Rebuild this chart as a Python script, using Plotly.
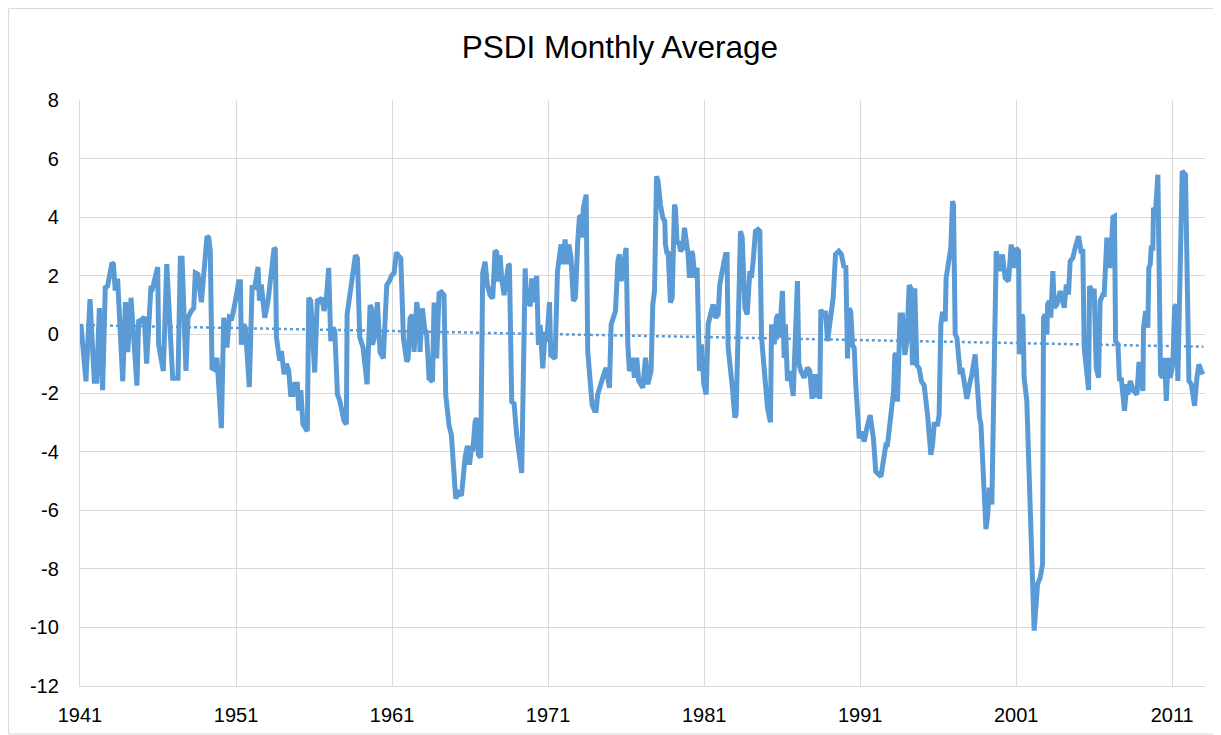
import plotly.graph_objects as go

# Decimal years and PSDI values
years = [
    1941.06, 1941.17, 1941.38, 1941.64, 1941.92, 1942.07, 1942.24, 1942.45, 1942.62, 1942.77,
    1943.05, 1943.14, 1943.26, 1943.41, 1943.74, 1943.91, 1944.06, 1944.27, 1944.65, 1944.76,
    1944.91, 1945.12, 1945.27, 1945.55, 1945.66, 1945.98, 1946.04, 1946.34, 1946.56, 1946.94,
    1947.11, 1947.28, 1947.43, 1947.54, 1947.79, 1947.92, 1948.14, 1948.29, 1948.39, 1948.56,
    1948.78, 1948.93, 1949.14, 1949.25, 1949.35, 1949.46, 1949.63, 1949.78, 1950.06, 1950.21,
    1950.42, 1950.57, 1950.74, 1950.91, 1951.17, 1951.28, 1951.34, 1951.49, 1951.60, 1951.85,
    1952.03, 1952.20, 1952.41, 1952.50, 1952.62, 1952.84,
    1953.05, 1953.44, 1953.52, 1953.59, 1953.69, 1953.80, 1953.91, 1954.08, 1954.23, 1954.38,
    1954.50, 1954.65, 1954.76, 1954.93, 1955.02, 1955.15, 1955.29, 1955.51, 1955.57, 1955.66,
    1955.79, 1956.04, 1956.21, 1956.36, 1956.51, 1956.64, 1956.79, 1956.94, 1957.07, 1957.22,
    1957.33, 1957.50, 1957.65, 1957.92, 1958.07, 1958.12, 1958.29, 1958.39, 1958.65, 1958.78,
    1958.93, 1959.14, 1959.40,
    1959.59, 1959.68, 1959.74, 1959.85, 1960.06, 1960.23, 1960.44, 1960.53, 1960.66, 1960.81,
    1960.96, 1961.13, 1961.28, 1961.38, 1961.56, 1961.73, 1961.94, 1962.03, 1962.15, 1962.30,
    1962.41, 1962.58, 1962.73, 1962.79, 1962.94, 1963.09, 1963.22, 1963.37, 1963.59, 1963.69,
    1963.80, 1963.86, 1964.01, 1964.16, 1964.33, 1964.44, 1964.65, 1964.80, 1965.08, 1965.25,
    1965.45, 1965.68, 1965.83, 1965.96, 1966.11, 1966.17, 1966.32, 1966.43, 1966.53, 1966.68,
    1966.75, 1966.81, 1966.96, 1967.03, 1967.11, 1967.28, 1967.45, 1967.60, 1967.71, 1967.82,
    1967.92, 1968.03, 1968.18, 1968.46, 1968.52, 1968.67, 1968.82, 1968.99, 1969.21, 1969.31,
    1969.53, 1969.63, 1969.74, 1969.85, 1969.95, 1970.06, 1970.27, 1970.38, 1970.49, 1970.66,
    1970.81, 1970.91, 1971.09, 1971.17, 1971.45, 1971.60,
    1971.83, 1971.94, 1972.09, 1972.20, 1972.33, 1972.47, 1972.62, 1972.75, 1972.90, 1973.01,
    1973.12, 1973.18, 1973.26, 1973.44, 1973.54, 1973.65, 1973.82, 1973.97, 1974.08, 1974.18,
    1974.33, 1974.50, 1974.72, 1974.93, 1975.04, 1975.19, 1975.32, 1975.47, 1975.57, 1975.68,
    1976.00, 1976.11, 1976.21, 1976.43, 1976.53, 1976.68, 1976.81, 1977.07, 1977.24, 1977.39,
    1977.60, 1977.71, 1977.82, 1977.95,
    1978.05, 1978.20, 1978.35, 1978.48, 1978.52, 1978.63, 1978.69, 1978.84, 1978.95, 1979.10,
    1979.16, 1979.27, 1979.38, 1979.48, 1979.63, 1979.74, 1979.85, 1979.97, 1980.06, 1980.19,
    1980.27, 1980.40, 1980.55, 1980.62, 1980.70, 1980.83, 1980.98, 1981.13, 1981.26, 1981.41,
    1981.58, 1981.73, 1981.90, 1982.00, 1982.11, 1982.20, 1982.37, 1982.47, 1982.54, 1982.69,
    1982.79, 1982.97, 1983.05, 1983.33, 1983.44, 1983.61, 1983.76,
    1983.93, 1984.03, 1984.14, 1984.29, 1984.46, 1984.57, 1984.68, 1984.78, 1984.93, 1985.06,
    1985.25, 1985.32, 1985.49, 1985.64, 1985.74, 1985.81, 1986.02, 1986.13, 1986.21, 1986.34,
    1986.49, 1986.71, 1986.98, 1987.07, 1987.20, 1987.41, 1987.62, 1987.77, 1987.92, 1988.05,
    1988.16, 1988.27, 1988.41, 1988.48, 1988.63, 1988.78, 1988.91, 1989.06, 1989.27, 1989.42,
    1989.63, 1989.80, 1989.97,
    1990.08, 1990.19, 1990.29, 1990.40, 1990.51, 1990.62, 1990.72, 1990.83, 1990.94, 1991.09,
    1991.26, 1991.43, 1991.64, 1991.85, 1992.00, 1992.33, 1992.50, 1992.65, 1992.75, 1992.97,
    1993.14, 1993.22, 1993.29, 1993.39, 1993.56, 1993.71, 1993.86, 1993.99, 1994.14, 1994.25,
    1994.35, 1994.50, 1994.63, 1994.78, 1994.93, 1995.10, 1995.21, 1995.32, 1995.53, 1995.64,
    1995.74, 1995.96, 1996.06, 1996.17, 1996.28,
    1996.45, 1996.51, 1996.66, 1996.81, 1996.92, 1996.98, 1997.09, 1997.20, 1997.30, 1997.41,
    1997.52, 1997.67, 1997.84, 1998.01, 1998.16, 1998.37, 1998.48, 1998.65, 1998.74, 1998.91,
    1999.06, 1999.16, 1999.29, 1999.44, 1999.59, 1999.72, 1999.82, 1999.97, 2000.12, 2000.29,
    2000.51,
    2000.68, 2000.83, 2001.00, 2001.15, 2001.21, 2001.36, 2001.43, 2001.51, 2001.68, 2001.85,
    2002.07, 2002.15, 2002.37, 2002.54, 2002.69, 2002.75, 2002.86, 2002.97, 2003.01, 2003.14,
    2003.22, 2003.35, 2003.44, 2003.61, 2003.82, 2003.99, 2004.08, 2004.21, 2004.35, 2004.46,
    2004.63, 2004.78, 2005.00, 2005.15, 2005.27, 2005.36, 2005.49, 2005.64, 2005.70, 2005.85,
    2006.00, 2006.13, 2006.28, 2006.38, 2006.56, 2006.64, 2006.81, 2006.98,
    2007.03, 2007.20, 2007.30, 2007.37, 2007.52, 2007.62, 2007.73, 2007.94, 2008.09, 2008.16,
    2008.31, 2008.52, 2008.74, 2008.86, 2008.95, 2009.12, 2009.16, 2009.29, 2009.44, 2009.50,
    2009.59, 2009.65, 2009.76, 2009.80, 2009.93, 2010.08, 2010.25, 2010.36, 2010.51, 2010.62,
    2010.74, 2010.87, 2011.04, 2011.15, 2011.26, 2011.36, 2011.64, 2011.85, 2012.07, 2012.22,
    2012.43, 2012.58, 2012.71, 2012.86, 2012.97,
]

psdi = [
    0.34, -0.2, -1.6, 1.2, -1.6, -1.6, 0.9, -1.9, 1.6, 1.65,
    2.45, 2.4, 1.5, 1.9, -1.6, 1.1, -0.6, 1.25, -1.75, 0.5,
    0.45, 0.6, -1.0, 1.65, 1.6, 2.3, -0.35, -1.25, 2.4, -1.5,
    -1.5, -1.5, 2.6, 2.6, -1.25, 0.57, 0.8, 0.9, 2.1, 2.05,
    1.1, 2.05, 3.35, 3.3, 2.85, -1.15, -1.2, -0.8, -3.2, 0.57,
    -0.45, 0.6, 0.57, 1.0, 1.8, 1.8, -0.35, 0.34, 0.23, -1.8,
    1.6, 1.6, 2.3, 1.15, 1.7, 0.57,
    1.14, 2.95, 2.9, -0.1, -0.57, -0.9, -0.57, -1.36, -1.0, -1.25,
    -2.05, -2.05, -1.7, -1.7, -2.6, -1.9, -3.07, -3.3, -3.3, 1.25,
    1.14, -1.3, 1.2, 1.14, 1.25, 0.8, 1.25, 2.27, -0.23, 0.23,
    0.11, -2.05, -2.27, -2.95, -3.07, 0.68, 1.36, 1.48, 2.7, 2.6,
    -0.1, -0.45, -1.7,
    1.0, 0.89, -0.36, -0.14, 1.1, -0.6, -0.82, 0.43, 1.68, 1.8,
    2.0, 2.1, 2.8, 2.7, 2.6, -0.14, -0.93, -0.82, 0.55, 0.66,
    -0.6, 1.1, 0.55, -0.6, 0.89, 0.2, -0.02, -1.5, -1.61, 1.0,
    1.0, -0.82, 1.4, 1.45, 1.34, -2.07, -3.1, -3.43, -5.6, -5.4,
    -5.5, -4.2, -3.8, -4.45, -3.8, -4.0, -2.98, -2.86, -4.1, -4.2,
    2.0, 2.1, 2.48, 1.9, 1.68, 1.34, 1.23, 2.86, 2.8, 1.8,
    2.7, 1.9, 1.34, 2.39, 2.36, -2.3, -2.36, -3.45, -4.45, -4.73,
    2.25, 1.0, 1.57, 0.95, 1.91, 1.1, 2.0, -0.36, 0.32, -1.16,
    0.09, -0.25, 1.1, -0.7, -0.82, 2.14,
    3.07, 2.39, 3.24, 2.39, 3.07, 2.61, 1.14, 1.25, 3.18, 4.0,
    4.03, 3.3, 4.3, 4.77, -0.57, -1.14, -2.4, -2.6, -2.6, -2.05,
    -1.7, -1.48, -1.14, -1.82, 0.34, 0.68, 0.8, 2.5, 2.73, 1.82,
    2.95, -0.34, -1.25, -0.8, -1.48, -0.8, -1.59, -1.82, -0.8, -1.7,
    -1.25, 1.02, 1.48, 5.4,
    5.23, 4.43, 3.98, 3.86, 3.07, 2.73, 2.84, 1.08, 1.25, 4.43,
    4.32, 3.07, 3.18, 2.84, 2.95, 3.64, 3.3, 2.73, 1.93, 2.84,
    2.73, 1.93, 2.27, -1.25, -1.25, -0.34, -1.7, -2.05, 0.34, 0.68,
    1.02, 0.57, 0.68, 1.7, 1.93, 2.27, 2.73, 2.73, -0.45, -1.48,
    -1.7, -2.84, -2.73, 3.52, 3.3, 0.91, 0.68,
    2.16, 1.93, 2.5, 3.52, 3.58, 3.52, -0.11, -0.8, -1.93, -2.5,
    -3.0, 0.34, -0.34, 0.57, 0.68, -0.11, 1.48, -0.8, 0.34, -1.59,
    -1.25, -2.1, 1.82, -1.0, -1.25, -1.48, -1.14, -1.25, -2.2, -1.36,
    -2.16, -1.36, -2.2, 0.85, 0.57, 0.8, -0.23, 0.45, 1.25, 2.73,
    2.84, 2.73, 2.27,
    2.36, -0.82, 0.89, 0.77, -0.36, -0.48, -1.73, -3.09, -3.55, -3.32,
    -3.66, -3.2, -2.75, -3.55, -4.68, -4.85, -4.34, -3.77, -3.77, -2.86,
    -1.95, -0.7, -0.65, -2.3, 0.66, 0.66, -0.7, -0.25, 1.68, 1.57,
    -1.05, 1.57, -1.05, -1.16, -1.61, -1.73, -2.52, -2.75, -4.11, -3.77,
    -3.07, -3.07, -2.75, 0.32, 0.77,
    0.45, 1.93, 2.5, 2.95, 4.55, 4.43, 0.0, -0.11, -0.68, -1.36,
    -1.14, -1.7, -2.2, -1.7, -1.36, -0.68, -1.7, -2.84, -3.07, -5.34,
    -6.65, -6.25, -5.23, -5.8, 0.57, 2.84, 2.61, 2.16, 2.73, 1.93,
    1.82,
    3.07, 2.27, 2.95, 2.84, -0.68, 0.68, 0.57, -1.48, -2.27, -5.11,
    -8.52, -10.11, -8.52, -8.3, -7.84, 0.57, 0.68, 0.0, 1.02, 1.14,
    0.57, 2.16, 0.91, 1.02, 1.48, 1.02, 0.91, 1.7, 1.36, 2.5,
    2.61, 2.95, 3.35, 2.84, 2.84, -0.45, -1.14, -1.9, 1.65, 1.48,
    1.48, -1.14, -1.48, 1.14, 1.36, 1.36, 3.3, 2.39,
    2.27, 4.0, 4.03, -0.23, -0.34, -1.59, -1.48, -2.61, -1.7, -2.05,
    -1.59, -1.93, -2.05, -1.02, -1.02, -1.93, 0.23, 0.8, 0.23, 2.27,
    2.39, 2.95, 2.95, 4.32, 4.2, 5.45, -1.36, -1.48, -0.8, -2.27,
    -0.8, -1.48, -1.02, 0.91, 1.02, -1.59, 5.57, 5.45, -1.59, -1.7,
    -2.44, -1.48, -1.02, -1.25, -1.36,
]

# Linear trend line end points
trend_years = [1941.0, 2013.0]
trend_values = [0.32, -0.42]

tick_years = [1941, 1951, 1961, 1971, 1981, 1991, 2001, 2011]
y_ticks = [8, 6, 4, 2, 0, -2, -4, -6, -8, -10, -12]

blue = "#5B9BD5"
grid = "#D9D9D9"
font_family = "Liberation Sans, Arial, sans-serif"

fig = go.Figure()
fig.add_trace(go.Scatter(
    x=trend_years, y=trend_values, mode="lines",
    line=dict(color=blue, width=2.5, dash="dot"),
    hoverinfo="skip", showlegend=False,
))
fig.add_trace(go.Scatter(
    x=years, y=psdi, mode="lines",
    line=dict(color=blue, width=5),
    showlegend=False,
))

fig.update_layout(
    width=1213, height=727,
    margin=dict(l=72, r=16, t=92, b=49, autoexpand=False),
    paper_bgcolor="white", plot_bgcolor="white",
    font=dict(family=font_family, color="#000000"),
    title=dict(text="PSDI Monthly Average", x=0.5045, xref="container", xanchor="center",
               y=0.946, yref="container", yanchor="middle",
               font=dict(size=31.5, color="#000000", family=font_family)),
    shapes=[dict(type="rect", xref="paper", yref="paper",
                 x0=-0.0635, x1=1.0124, y0=-0.0819, y1=1.156,
                 line=dict(color=grid, width=1), fillcolor="rgba(0,0,0,0)", layer="below")],
)
fig.update_xaxes(
    range=[1941, 2013.1], tickmode="array", tickvals=tick_years,
    ticktext=[str(t) for t in tick_years],
    showgrid=True, gridcolor=grid, gridwidth=1.3,
    showline=True, linecolor=grid, linewidth=1.3,
    zeroline=False, ticks="", ticklabelstandoff=11, automargin=False,
    tickfont=dict(size=20, color="#000000"),
)
fig.update_yaxes(
    range=[-12, 8], tickmode="array", tickvals=y_ticks,
    ticktext=[str(t) for t in y_ticks],
    showgrid=True, gridcolor=grid, gridwidth=1.3,
    showline=True, linecolor=grid, linewidth=1.3,
    zeroline=False, ticks="", ticklabelstandoff=16, automargin=False,
    tickfont=dict(size=20, color="#000000"),
)

fig.write_html("out.html")
